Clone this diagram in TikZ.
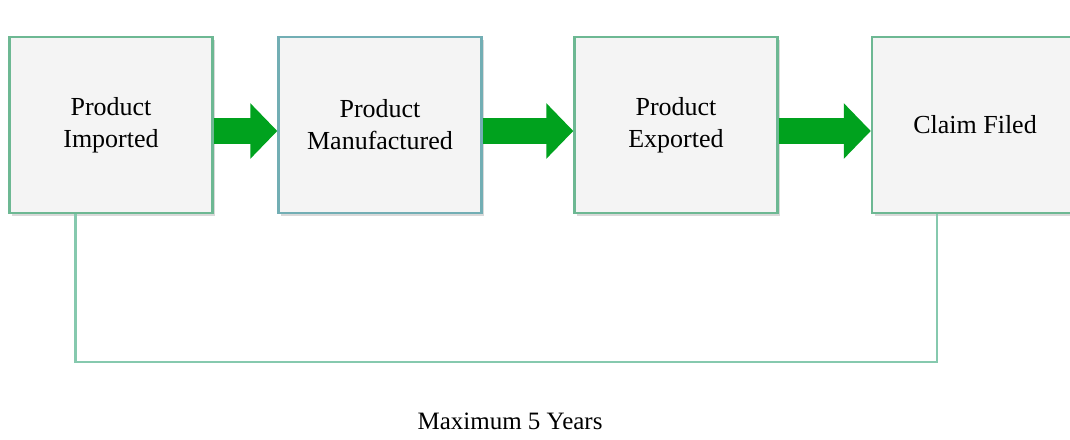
\documentclass[tikz,border=0pt]{standalone}
\usepackage{fontspec}
\setmainfont{Liberation Serif}
\usetikzlibrary{arrows.meta,shadows}
\definecolor{boxfill}{HTML}{F4F4F4}
\definecolor{boxline}{HTML}{6DB893}
\definecolor{boxteal}{HTML}{72AEB4}
\definecolor{backgreen}{HTML}{86C9AE}
\definecolor{flowgreen}{HTML}{00A21E}
\begin{document}
\begin{tikzpicture}[x=1pt,y=-1pt,
  stage/.style={draw=boxline, line width=2.4pt, fill=boxfill, minimum width=203pt, minimum height=176pt, align=center, inner sep=0pt, font=\fontsize{26}{32}\selectfont, drop shadow={opacity=0.3, shadow xshift=2.5pt, shadow yshift=-2.5pt}},
  flow/.style={draw=flowgreen, line width=26pt, -{Triangle[length=27pt,width=54pt]}},
  backline/.style={draw=backgreen, line width=2.6pt}]
\useasboundingbox (0,0) rectangle (1070,439);
\node[stage] (1) at (111,125) {Product\\Imported};
\node[stage, draw=boxteal] (2) at (380,125) {Product\\Manufactured};
\node[stage] (3) at (676,125) {Product\\Exported};
\node[stage, minimum width=206pt] (4) at (975,125) {Claim Filed};
\node[font=\fontsize{25}{30}\selectfont] (5) at (510,421) {Maximum 5 Years};
\coordinate (6) at (500,362);
\path[flow] ([yshift=-6pt]1.east) -- ([yshift=-6pt]2.west);
\path[flow] ([yshift=-6pt]2.east) -- ([yshift=-6pt]3.west);
\path[flow] ([yshift=-6pt]3.east) -- ([yshift=-6pt]4.west);
\path[backline] ([xshift=67pt]1.south west) |- (6) -| ([xshift=66pt]4.south west);
\end{tikzpicture}
\end{document}
